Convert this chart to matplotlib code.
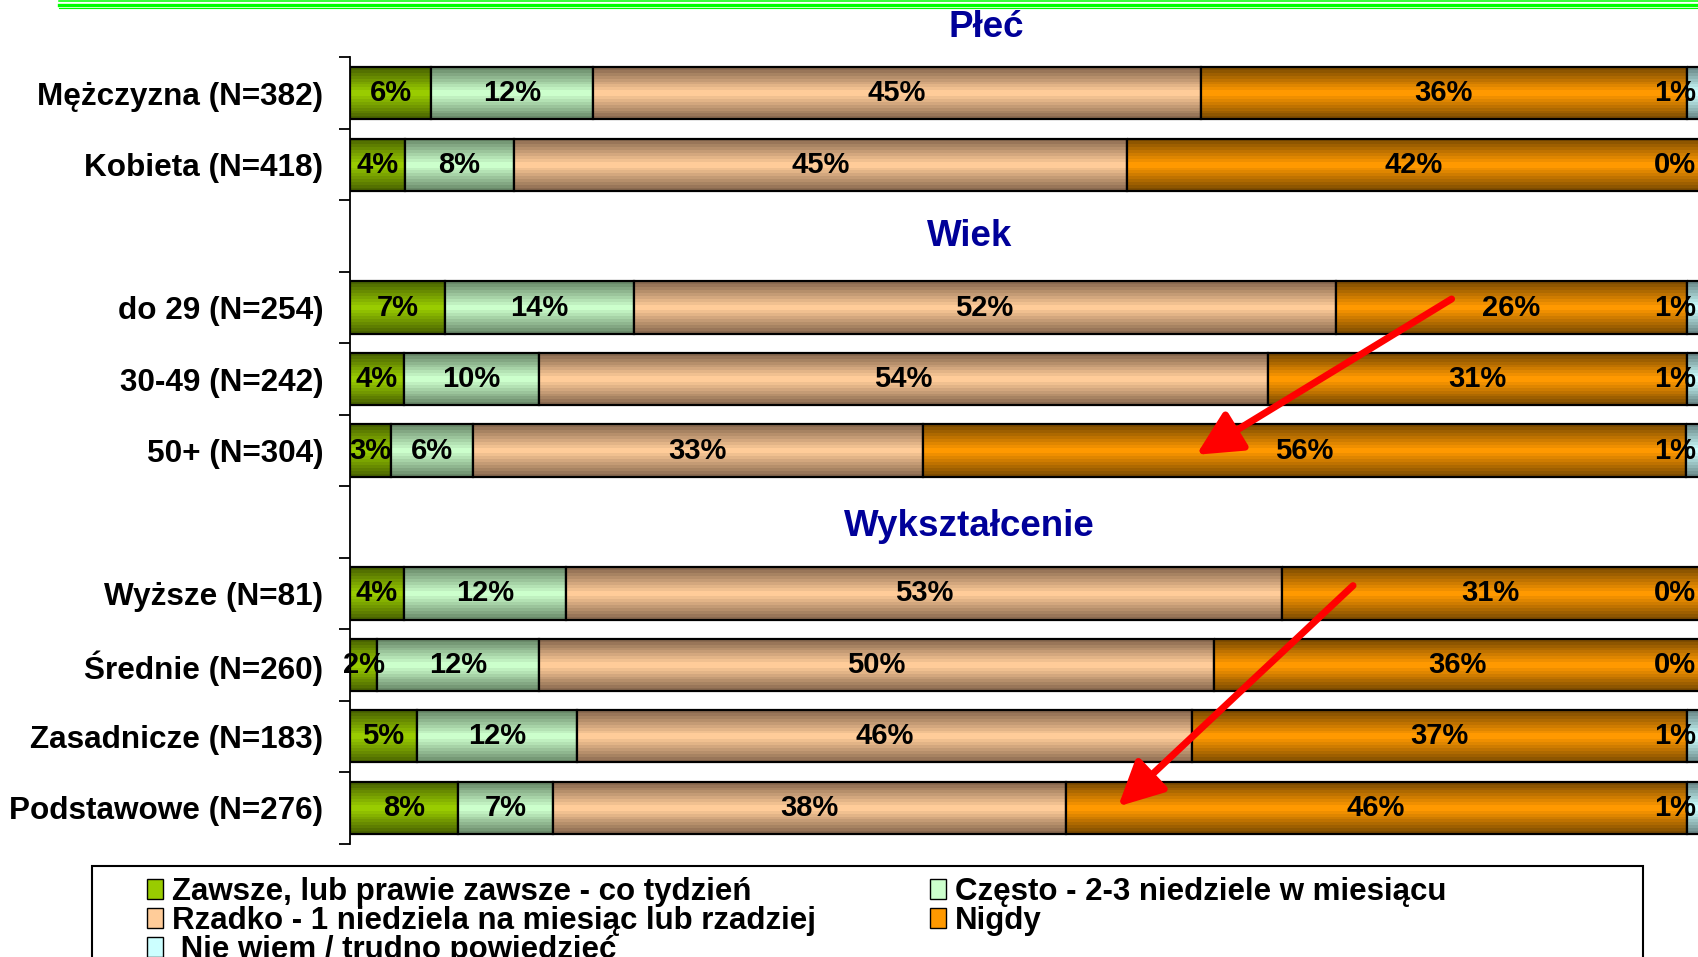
import numpy as np
import matplotlib
matplotlib.use("Agg")
import matplotlib.pyplot as plt
from matplotlib.patches import Patch, Rectangle
from matplotlib.lines import Line2D
from matplotlib.colors import to_rgb

plt.rcParams['font.family'] = ['Liberation Sans', 'DejaVu Sans']
plt.rcParams['font.weight'] = 'bold'

# --- data (printed shares, %) ---
rows = ["Mężczyzna (N=382)", "Kobieta (N=418)", "",
        "do 29 (N=254)", "30-49 (N=242)", "50+ (N=304)", "",
        "Wyższe (N=81)", "Średnie (N=260)", "Zasadnicze (N=183)", "Podstawowe (N=276)"]
groups = ["Płeć", "Wiek", "Wykształcenie"]
group_rows = [-0.92, 2, 6.06]   # slot used by group headers

series = ["Zawsze, lub prawie zawsze - co tydzień",
          "Często - 2-3 niedziele w miesiącu",
          "Rzadko - 1 niedziela na miesiąc lub rzadziej",
          "Nigdy",
          " Nie wiem / trudno powiedzieć"]
zawsze  = [6, 4, None, 7, 4, 3, None, 4, 2, 5, 8]
czesto  = [12, 8, None, 14, 10, 6, None, 12, 12, 12, 7]
rzadko  = [45, 45, None, 52, 54, 33, None, 53, 50, 46, 38]
nigdy   = [36, 42, None, 26, 31, 56, None, 31, 36, 37, 46]
nie_wiem = [1, 0, None, 1, 1, 1, None, 0, 0, 1, 1]

# center colour / edge shade for the banded look
light = ["#99CC00", "#CCFFCC", "#FFCC99", "#FF9900", "#CCFFFF"]
dark  = ["#4A6400", "#6A8A6A", "#8A6A50", "#7E4C00", "#6A8888"]

# red arrows (data coords: % , row slot)
arrows = [((81.6, 2.88), (62.7, 5.06)),
          ((74.3, 6.89), (56.9, 9.98))]

fig = plt.figure(figsize=(16.98, 9.57), dpi=100)
W, H = 1698, 957
ax = fig.add_axes([350 / W, 1 - 843.6 / H, 1350 / W, (843.6 - 57.4) / H])

vals = [zawsze, czesto, rzadko, nigdy, nie_wiem]
data_rows = [i for i, r in enumerate(rows) if r]
bar_h = 0.73
nband = 9

for i in data_rows:
    v = np.array([s[i] for s in vals], dtype=float)
    v = v / v.sum() * 100.0
    left = 0.0
    for k in range(len(series)):
        c0, c1 = np.array(to_rgb(dark[k])), np.array(to_rgb(light[k]))
        for b in range(nband):
            t = b / (nband - 1)
            col = c0 * (1 - t) + c1 * t
            ax.barh(i, v[k], left=left, height=bar_h * (1 - b / nband),
                    color=col, linewidth=0)
        ax.barh(i, v[k], left=left, height=bar_h, facecolor='none',
                edgecolor='black', linewidth=1.6)
        lab = "%d%%" % vals[k][i]
        if k == len(series) - 1:
            ax.text(99.7, i, lab, ha='right', va='center', fontsize=21,
                    fontweight='bold', clip_on=False)
        else:
            ax.text(left + v[k] / 2, i, lab, ha='center', va='center',
                    fontsize=21, fontweight='bold')
        left += v[k]

for g, r, x in zip(groups, group_rows, [47.1, 45.9, 45.9]):
    ax.text(x, r, g, ha='center', va='center', fontsize=26.5,
            fontweight='bold', color='#000099', clip_on=False)

for (x0, y0), (x1, y1) in arrows:
    ax.annotate("", xy=(x1, y1), xytext=(x0, y0),
                arrowprops=dict(arrowstyle="-|>,head_length=0.68,head_width=0.34",
                                color='#FF0000', lw=5, mutation_scale=40,
                                shrinkA=0, shrinkB=0))

ax.set_xlim(0, 100)
ax.set_ylim(len(rows) - 0.5, -0.5)
ax.set_yticks(data_rows)
ax.set_yticklabels([rows[i] for i in data_rows], fontsize=22.7, fontweight='bold')
ax.set_yticks(np.arange(len(rows) + 1) - 0.5, minor=True)
ax.tick_params(axis='y', which='major', length=0, pad=19)
ax.tick_params(axis='y', which='minor', length=8, width=1.3, direction='out')
ax.tick_params(axis='x', which='both', bottom=False, labelbottom=False)
for s in ['top', 'right', 'bottom']:
    ax.spines[s].set_visible(False)
ax.spines['left'].set_linewidth(1.3)

# green rules at the top
for y, lw in [(0.8, 1.1), (5.0, 2.4), (8.2, 0.8)]:
    fig.add_artist(Line2D([59 / W, 1], [1 - y / H, 1 - y / H], color='#00FF00', lw=lw))

# legend
handles = []
for k in range(len(series)):
    handles.append(Patch(facecolor=light[k], edgecolor='black', linewidth=1.0))
order = [0, 2, 4, 1, 3]
fig.legend([handles[k] for k in order], [series[k] for k in order],
           loc='upper left', bbox_to_anchor=(147 / W, 1 - 877 / H), ncol=2,
           frameon=False, handlelength=0.5, handleheight=0.6,
           handletextpad=0.3, labelspacing=-0.03, columnspacing=3.65,
           borderpad=0, borderaxespad=0, prop={'weight': 'bold', 'size': 22.5})
fig.add_artist(Rectangle((92 / W, -0.05), (1643 - 92) / W, 0.05 + 1 - 866 / H,
                         transform=fig.transFigure, facecolor='none',
                         edgecolor='black', linewidth=1.5))

fig.savefig("out.png", dpi=100)
